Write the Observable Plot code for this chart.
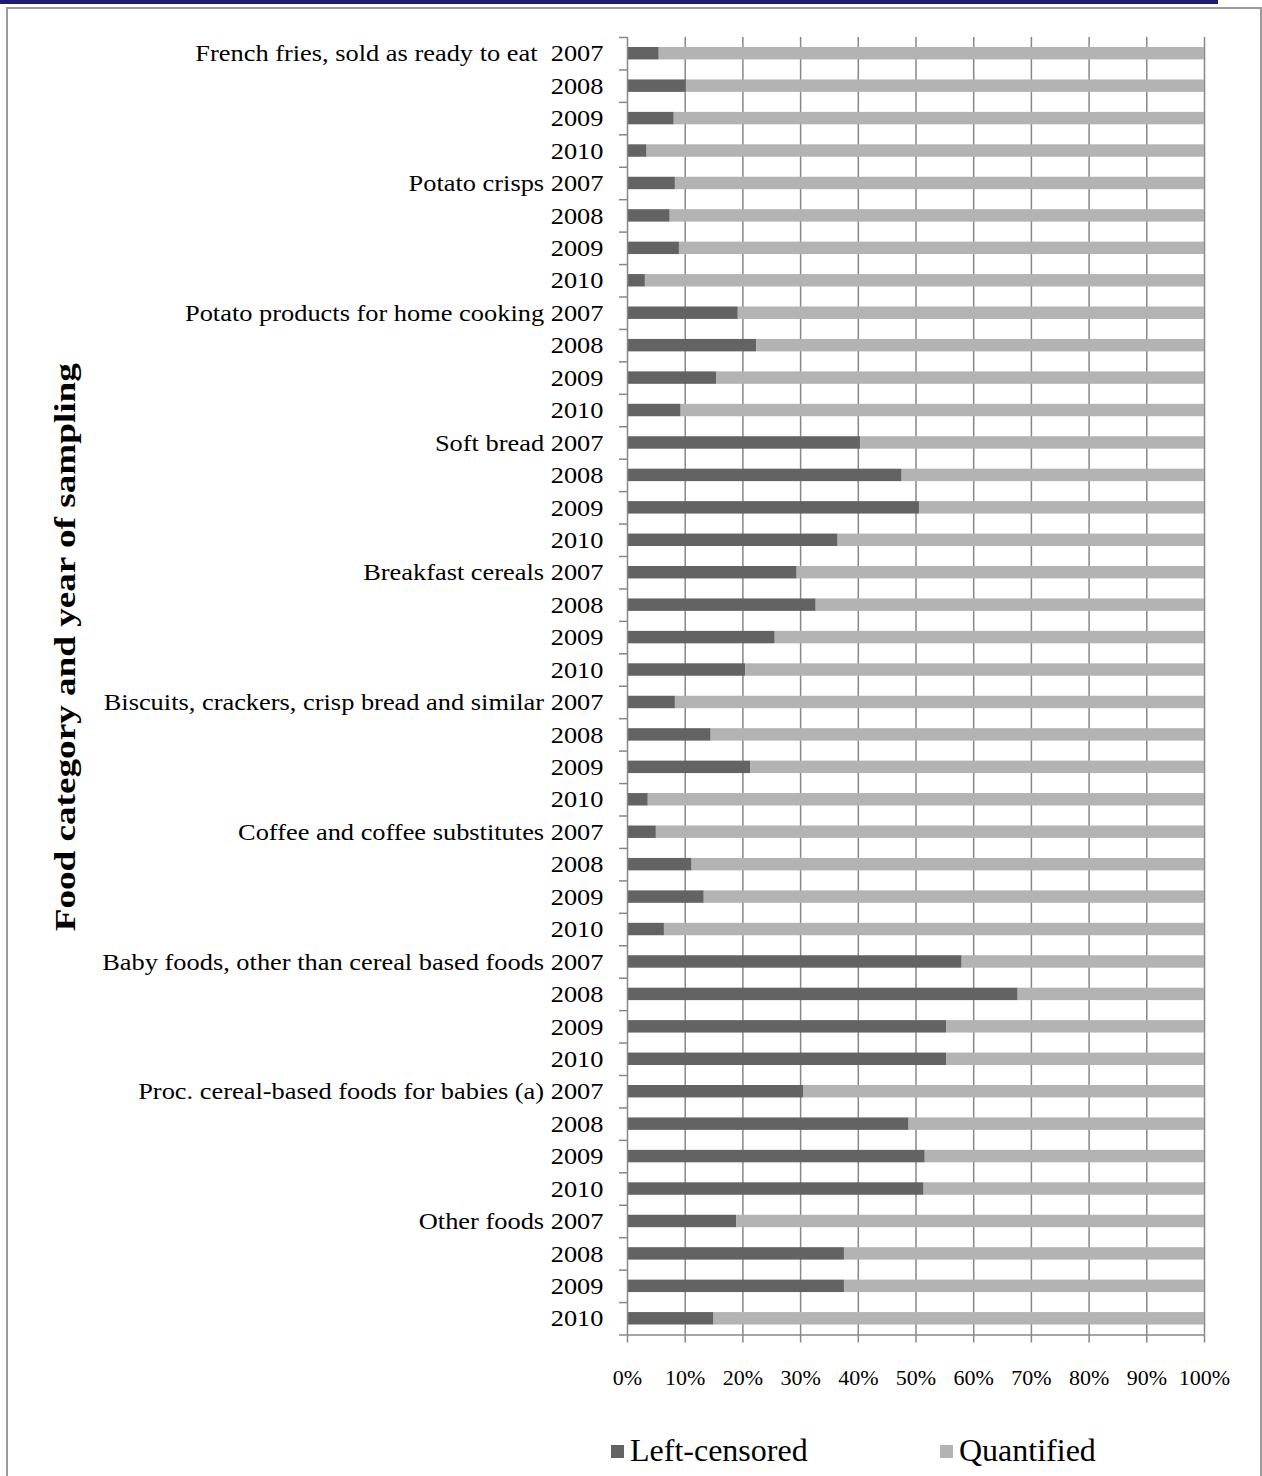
<!DOCTYPE html>
<html>
<head>
<meta charset="utf-8">
<script src="https://cdn.jsdelivr.net/npm/d3@7"></script>
<script src="https://cdn.jsdelivr.net/npm/@observablehq/plot@0.6"></script>
<style>
  html, body { margin: 0; padding: 0; background: #fff; }
  #page { position: relative; width: 1262px; height: 1476px; overflow: hidden; font-family: "Liberation Serif", "Times New Roman", serif; }
  #topbar { position: absolute; left: 0; top: 0; width: 1218px; height: 4px; background: #1c1c72; }
  #frame { position: absolute; left: 6px; top: 7px; width: 1252px; height: 1500px; border: 2px solid #9a9a9a; border-bottom: none; }
  #chart { position: absolute; left: 0; top: 0; }
  #legend { position: absolute; top: 1430px; left: 0; width: 1262px; height: 40px; font-size: 32px; color: #000; }
  .item { position: absolute; top: 0; display: flex; align-items: center; height: 40px; }
  .swatch { width: 13px; height: 13px; margin-right: 6px; margin-top: 2px; }
</style>
</head>
<body>
<div id="page">
  <div id="topbar"></div>
  <div id="frame"></div>
  <div id="chart"></div>
  <div id="legend">
    <div class="item" style="left:611px"><span class="swatch" style="background:#636363"></span>Left-censored</div>
    <div class="item" style="left:940px"><span class="swatch" style="background:#b3b3b3"></span>Quantified</div>
  </div>
</div>
<script>
// Food categories, sampling years and share (%) of left-censored results
const categories = [
  "French fries, sold as ready to eat\u00a0",
  "Potato crisps",
  "Potato products for home cooking",
  "Soft bread",
  "Breakfast cereals",
  "Biscuits, crackers, crisp bread and similar",
  "Coffee and coffee substitutes",
  "Baby foods, other than cereal based foods",
  "Proc. cereal-based foods for babies (a)",
  "Other foods"
];
const years = [2007, 2008, 2009, 2010];
const leftCensored = [
  [5.5, 10.2, 8.1, 3.4],
  [8.3, 7.4, 9.0, 3.1],
  [19.2, 22.4, 15.5, 9.3],
  [40.4, 47.6, 50.6, 36.5],
  [29.4, 32.7, 25.6, 20.5],
  [8.3, 14.5, 21.4, 3.6],
  [5.0, 11.2, 13.3, 6.4],
  [58.0, 67.7, 55.3, 55.3],
  [30.5, 48.8, 51.6, 51.4],
  [18.9, 37.6, 37.6, 15.0]
];
const xTicks = [0, 10, 20, 30, 40, 50, 60, 70, 80, 90, 100];
const axisTitle = "Food category and year of sampling";

const DARK = "#636363", LIGHT = "#b3b3b3", GRID = "#878787";
const SERIF = "Liberation Serif, Times New Roman, serif";
const ML = 627, LABEL_PAD = 24;

// One row per category/year, in reading order from the top
const rows = [];
categories.forEach((cat, ci) => {
  years.forEach((yr, yi) => {
    const left = leftCensored[ci][yi];
    rows.push({
      row: rows.length,
      label: yi === 0 ? `${cat} ${yr}` : `${yr}`,
      left,
      quantified: 100 - left
    });
  });
});
const nRows = rows.length;

const chart = Plot.plot({
  width: 1262,
  height: 1400,
  marginLeft: ML,
  marginRight: 58,
  marginTop: 37,
  marginBottom: 65.5,
  style: { fontFamily: SERIF, fontSize: "24px", color: "#000", background: "transparent" },
  x: { domain: [0, 100] },
  y: { domain: [0, nRows], reverse: true },
  marks: [
    // vertical gridlines
    Plot.ruleX(xTicks.slice(1), { stroke: GRID, strokeWidth: 1.5 }),
    // left-censored share
    Plot.rectX(rows, { x1: 0, x2: "left", y1: "row", y2: d => d.row + 1, insetTop: 10, insetBottom: 10, fill: DARK }),
    // quantified share
    Plot.rectX(rows, { x1: "left", x2: d => d.left + d.quantified, y1: "row", y2: d => d.row + 1, insetTop: 10, insetBottom: 10, fill: LIGHT }),
    // axis lines
    Plot.ruleX([0], { stroke: GRID, strokeWidth: 1.5 }),
    Plot.ruleY([nRows], { stroke: GRID, strokeWidth: 1.5 }),
    // category boundary ticks
    Plot.axisY(d3.range(0, nRows + 1), { anchor: "left", tickSize: 8, tickFormat: () => "", stroke: GRID, strokeWidth: 1.5, label: null }),
    // row labels
    Plot.axisY(rows.map(d => d.row + 0.5), {
      anchor: "left", tickSize: 0, tickPadding: LABEL_PAD, label: null,
      tickFormat: v => rows[Math.floor(v)].label, fontSize: 24, fill: "#000"
    }),
    // percentage axis
    Plot.axisX(xTicks, { anchor: "bottom", tickSize: 8, tickPadding: 26, stroke: GRID, strokeWidth: 1.5,
      tickFormat: d => d + "%", fontSize: 22, fill: "#000", label: null }),
    // axis title
    Plot.text([axisTitle], {
      frameAnchor: "left", textAnchor: "middle", rotate: -90, dx: -562, dy: -39,
      fontSize: 30, fontWeight: "bold", fill: "#000"
    })
  ]
});
document.getElementById("chart").appendChild(chart);

// The typeset labels run wide: scale their glyphs about each label's own anchor
const rowLabels = new Set(rows.map(d => d.label));
const anchorOf = tr => {
  const m = /translate\(\s*([-\d.]+)[ ,]+([-\d.]+)\s*\)/.exec(tr);
  return m ? [+m[1], +m[2]] : null;
};
chart.querySelectorAll("text").forEach(t => {
  const s = t.textContent;
  const tr = t.getAttribute("transform") || "";
  const a = anchorOf(tr);
  if (rowLabels.has(s)) {
    const ax = a ? a[0] : ML;
    t.setAttribute("transform", `translate(${ax},0) scale(1.1,1) translate(${-ax},0) ${tr}`);
  } else if (s === axisTitle) {
    const k = 568 / t.getBBox().width;
    const cy = a ? a[1] : 685;
    t.setAttribute("transform", `translate(0,${cy}) scale(1,${k.toFixed(3)}) translate(0,${-cy}) ${tr}`);
  }
});
</script>
</body>
</html>
